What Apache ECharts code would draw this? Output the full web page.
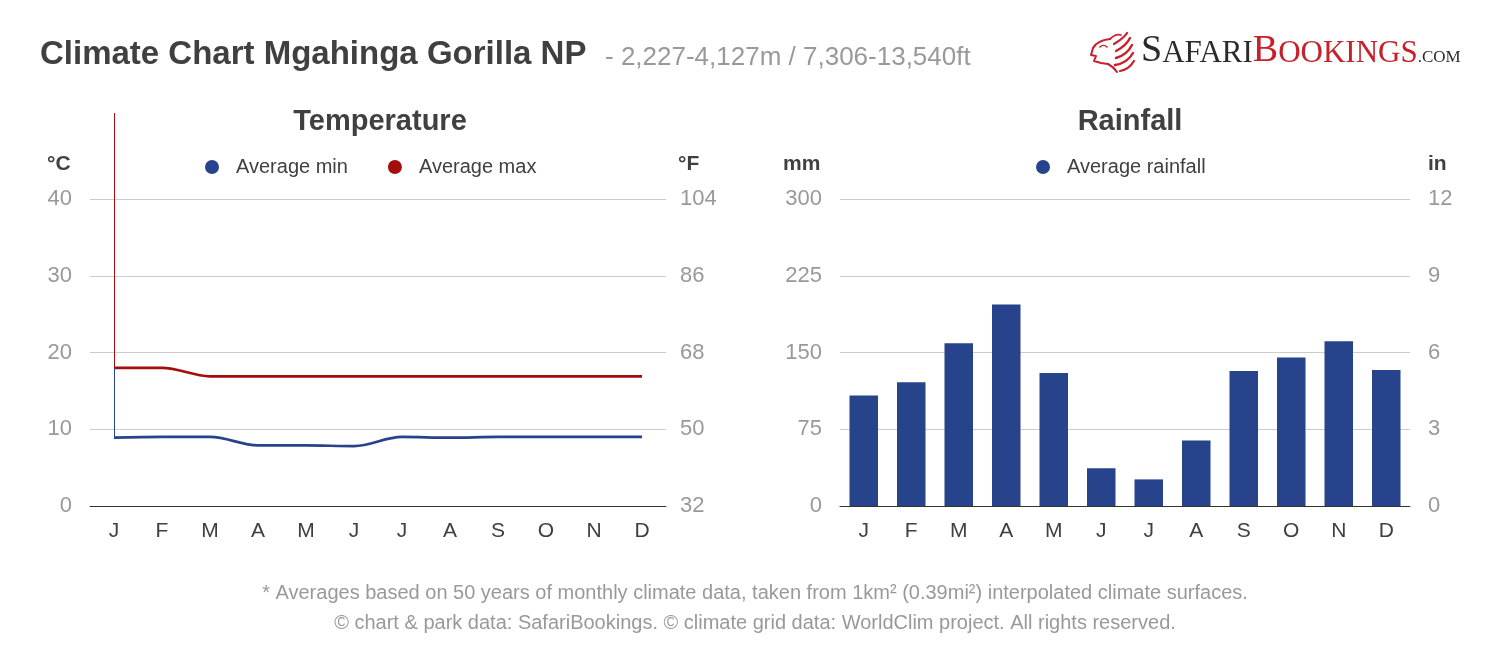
<!DOCTYPE html>
<html>
<head>
<meta charset="utf-8">
<script src="https://cdn.jsdelivr.net/npm/echarts@6/dist/echarts.min.js"></script>
<style>
html,body{margin:0;padding:0;background:#fff;}
#c{width:1500px;height:652px;}
</style>
</head>
<body>
<div id="c"></div>
<script>
// ---- data ----
const months = ['J','F','M','A','M','J','J','A','S','O','N','D'];
const avgMin = [8.9, 9.0, 9.0, 7.9, 7.9, 7.8, 9.0, 8.9, 9.0, 9.0, 9.0, 9.0];
const avgMax = [18.0, 18.0, 16.9, 16.9, 16.9, 16.9, 16.9, 16.9, 16.9, 16.9, 16.9, 16.9];
const rainfall = [108, 121, 159, 197, 130, 37, 26, 64, 132, 145, 161, 133];
const tempCTicks = [0, 10, 20, 30, 40];
const tempFTicks = [32, 50, 68, 86, 104];
const rainMmTicks = [0, 75, 150, 225, 300];
const rainInTicks = [0, 3, 6, 9, 12];

const FONT = '"Liberation Sans", Arial, sans-serif';
const SERIF = '"Liberation Serif", serif';
const BLUE = '#27438c';
const RED = '#a50d0d';
const LOGORED = '#c8202a';
const GRID = '#cccccc';
const LABEL = '#999999';
const DARK = '#404040';

const chart = echarts.init(document.getElementById('c'), null, {renderer: 'canvas'});

function yAxisCfg(grid, ticks, pos, showSplit, margin) {
  return {
    type: 'value', gridIndex: grid, position: pos,
    min: ticks[0], max: ticks[ticks.length - 1], interval: ticks[1] - ticks[0],
    axisLine: {show: false}, axisTick: {show: false},
    splitLine: {show: showSplit, lineStyle: {color: GRID, width: 1}},
    axisLabel: {color: LABEL, fontSize: 22, fontFamily: FONT, margin: margin}
  };
}
function xAxisCfg(grid) {
  return {
    type: 'category', gridIndex: grid, data: months, boundaryGap: true,
    axisLine: {show: true, lineStyle: {color: '#333', width: 1}},
    axisTick: {show: false},
    axisLabel: {color: DARK, fontSize: 21, fontFamily: FONT, margin: 15, interval: 0}
  };
}
let gid = 0;
function unitText(x, t) {
  return {id: 'g' + (gid++), type: 'text', left: x, top: 154, style: {text: t, font: 'bold 21px ' + FONT, fill: DARK}};
}
function bz(x1, y1, c1x, c1y, c2x, c2y, x2, y2, w) {
  return {id: 'g' + (gid++), type: 'bezierCurve',
    shape: {x1: x1, y1: y1, cpx1: c1x, cpy1: c1y, cpx2: c2x, cpy2: c2y, x2: x2, y2: y2},
    style: {fill: 'none', stroke: LOGORED, lineWidth: w, lineCap: 'round'}};
}
function pl(pts, w) {
  return {id: 'g' + (gid++), type: 'polyline', shape: {points: pts},
    style: {fill: 'none', stroke: LOGORED, lineWidth: w, lineCap: 'round', lineJoin: 'round'}};
}

const graphics = [
  unitText(47, '°C'), unitText(678, '°F'), unitText(783, 'mm'), unitText(1428, 'in'),
  {id: 'logo', type: 'text', left: 1141, top: 32, style: {
    rich: {
      big: {fontSize: 38, fontFamily: SERIF, fill: '#2b2b2b', verticalAlign: 'bottom', lineHeight: 40},
      sm: {fontSize: 31, fontFamily: SERIF, fill: '#2b2b2b', verticalAlign: 'bottom', lineHeight: 40, padding: [0,0,1,0]},
      bigr: {fontSize: 38, fontFamily: SERIF, fill: LOGORED, verticalAlign: 'bottom', lineHeight: 40},
      smr: {fontSize: 31, fontFamily: SERIF, fill: LOGORED, verticalAlign: 'bottom', lineHeight: 40, padding: [0,0,1,0]},
      com: {fontSize: 17, fontFamily: SERIF, fill: '#2b2b2b', verticalAlign: 'bottom', lineHeight: 40, padding: [0,0,4,0]}
    },
    text: '{big|S}{sm|AFARI}{bigr|B}{smr|OOKINGS}{com|.COM}'
  }},
  // stylised lion-head mark
  bz(1093, 48, 1096, 42, 1102, 40, 1110, 39, 2.2),
  pl([[1093, 48], [1091, 55], [1096, 56], [1094, 61], [1101, 63], [1108, 64]], 2),
  bz(1100, 47, 1102, 45, 1105, 45, 1107, 47, 1.6),
  bz(1108, 64, 1112, 66, 1115, 69, 1117, 72, 2),
  bz(1110, 39, 1114, 35, 1118, 34, 1121, 35, 1.8),
  bz(1114, 44, 1119, 41, 1124, 38, 1127, 33, 2.2),
  bz(1116, 51, 1122, 48, 1127, 44, 1130, 38, 2.4),
  bz(1116, 58, 1123, 56, 1129, 51, 1132, 45, 2.4),
  bz(1115, 65, 1122, 64, 1129, 60, 1133, 53, 2.4),
  bz(1120, 71, 1126, 70, 1131, 66, 1134, 61, 2.2)
];

const option = {
  backgroundColor: '#fff',
  animation: false,
  textStyle: {fontFamily: FONT},
  title: [
    {text: 'Climate Chart Mgahinga Gorilla NP', left: 35, top: 33,
     textStyle: {fontSize: 33, fontWeight: 'bold', color: DARK, fontFamily: FONT}},
    {text: '- 2,227-4,127m / 7,306-13,540ft', left: 600, top: 40,
     textStyle: {fontSize: 26, fontWeight: 'normal', color: LABEL, fontFamily: FONT}},
    {text: 'Temperature', left: 375, top: 102, textAlign: 'center',
     textStyle: {fontSize: 29, fontWeight: 'bold', color: DARK, fontFamily: FONT}},
    {text: 'Rainfall', left: 1125, top: 102, textAlign: 'center',
     textStyle: {fontSize: 29, fontWeight: 'bold', color: DARK, fontFamily: FONT}},
    {text: '* Averages based on 50 years of monthly climate data, taken from 1km² (0.39mi²) interpolated climate surfaces.',
     left: 750, top: 578, textAlign: 'center',
     textStyle: {fontSize: 20, fontWeight: 'normal', color: LABEL, fontFamily: FONT}},
    {text: '© chart & park data: SafariBookings. © climate grid data: WorldClim project. All rights reserved.',
     left: 750, top: 608, textAlign: 'center',
     textStyle: {fontSize: 20, fontWeight: 'normal', color: LABEL, fontFamily: FONT}}
  ],
  graphic: graphics,
  legend: [
    {data: ['Average min', 'Average max'], left: 200, top: 152, itemGap: 40,
     icon: 'circle', itemWidth: 38, itemHeight: 14,
     textStyle: {fontSize: 20, color: DARK, fontFamily: FONT}},
    {data: ['Average rainfall'], left: 1031, top: 152,
     icon: 'circle', itemWidth: 38, itemHeight: 14,
     textStyle: {fontSize: 20, color: DARK, fontFamily: FONT}}
  ],
  grid: [
    {left: 90, right: 834, top: 199, bottom: 146},
    {left: 840, right: 90, top: 199, bottom: 146}
  ],
  xAxis: [xAxisCfg(0), xAxisCfg(1)],
  yAxis: [
    yAxisCfg(0, tempCTicks, 'left', true, 18),
    yAxisCfg(0, tempFTicks, 'right', false, 14),
    yAxisCfg(1, rainMmTicks, 'left', true, 18),
    yAxisCfg(1, rainInTicks, 'right', false, 18)
  ],
  series: [
    {name: 'Average min', type: 'line', xAxisIndex: 0, yAxisIndex: 0, data: avgMin,
     smooth: 0.35, showSymbol: false, symbol: 'circle',
     itemStyle: {color: BLUE}, lineStyle: {color: BLUE, width: 2.7}},
    {name: 'Average max', type: 'line', xAxisIndex: 0, yAxisIndex: 0, data: avgMax,
     smooth: 0.35, showSymbol: false, symbol: 'circle',
     itemStyle: {color: RED}, lineStyle: {color: RED, width: 2.7}},
    {name: 'Average rainfall', type: 'bar', xAxisIndex: 1, yAxisIndex: 2, data: rainfall,
     barCategoryGap: '40%', itemStyle: {color: BLUE}}
  ]
};
chart.setOption(option);

// thin vertical leader lines at the first month, placed through the library's scales
const pMax = chart.convertToPixel({gridIndex: 0}, [0, avgMax[0]]);
const pMin = chart.convertToPixel({gridIndex: 0}, [0, avgMin[0]]);
const lx = Math.floor(pMax[0]) + 0.5;
const topY = 113;
chart.setOption({
  graphic: [
    {id: 'leadMax', type: 'line', z: 10, shape: {x1: lx, y1: topY, x2: lx, y2: pMax[1]},
     style: {stroke: RED, lineWidth: 1}},
    {id: 'leadMin', type: 'line', z: 10, shape: {x1: lx, y1: pMax[1], x2: lx, y2: pMin[1]},
     style: {stroke: BLUE, lineWidth: 1}}
  ]
});
</script>
</body>
</html>
